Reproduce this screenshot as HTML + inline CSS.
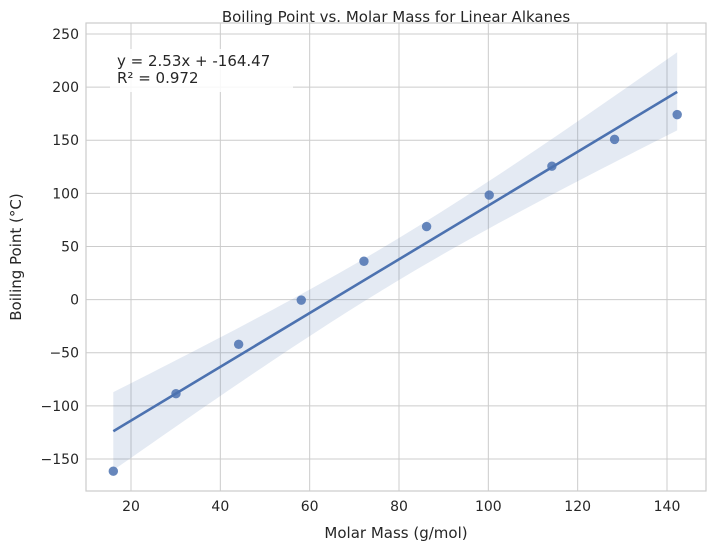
<!DOCTYPE html>
<html><head><meta charset="utf-8"><style>
body{margin:0;background:#fff;font-family:"Liberation Sans","DejaVu Sans",sans-serif}
svg text{font-family:"DejaVu Sans","Liberation Sans",sans-serif;fill:#262626}
</style></head><body>
<svg id="chart" width="715" height="551" xmlns="http://www.w3.org/2000/svg"></svg>
<script>
const molarMass=[16.04,30.07,44.1,58.12,72.15,86.18,100.2,114.23,128.26,142.28];
const boilingPoint=[-161.5,-88.6,-42.1,-0.5,36.1,68.7,98.4,125.6,150.8,174.1];
const xTicks=[20,40,60,80,100,120,140];
const yTicks=[-150,-100,-50,0,50,100,150,200,250];
const slope=2.53, intercept=-164.47, r2=0.972;

const NS="http://www.w3.org/2000/svg";
const svg=document.getElementById('chart');
const L=86,R=706,T=23,B=491;
const X=v=>131+(v-20)*(536/120);
const Y=v=>299.6-v*1.0625;
const fmt=v=>String(v).replace('-','\u2212');
function mk(tag,attrs,parent){const e=document.createElementNS(NS,tag);for(const k in attrs)e.setAttribute(k,attrs[k]);(parent||svg).appendChild(e);return e;}

const frame=mk('rect',{x:L,y:T,width:R-L,height:B-T,fill:'#fff'});


xTicks.forEach(t=>{
  const g=mk('line',{x1:X(t),x2:X(t),y1:T,y2:B,stroke:'#cccccc','stroke-width':1});
  
  
  const tx=mk('text',{x:X(t),y:B+20,'text-anchor':'middle','font-size':14});
  tx.textContent=fmt(t);
  
  
});
yTicks.forEach(t=>{
  const g=mk('line',{x1:L,x2:R,y1:Y(t),y2:Y(t),stroke:'#cccccc','stroke-width':1});
  
  
  const tx=mk('text',{x:L-7,y:Y(t)+5,'text-anchor':'end','font-size':14});
  tx.textContent=fmt(t);
  
  
});

const n=molarMass.length;
const xbar=molarMass.reduce((a,b)=>a+b,0)/n;
const ybar=boilingPoint.reduce((a,b)=>a+b,0)/n;
let sxx=0,sxy=0;molarMass.forEach((x,i)=>{sxx+=(x-xbar)**2;sxy+=(x-xbar)*(boilingPoint[i]-ybar);});
const b1=sxy/sxx,b0=ybar-b1*xbar;
let sse=0;molarMass.forEach((x,i)=>{sse+=(boilingPoint[i]-(b0+b1*x))**2;});
const s=Math.sqrt(sse/(n-2));
const xmin=Math.min(...molarMass),xmax=Math.max(...molarMass);
let up=[],lo=[];
for(let k=0;k<=60;k++){const x=xmin+(xmax-xmin)*k/60;const yh=b0+b1*x;const h=1.4*2.306*s*Math.sqrt(1/n+(x-xbar)**2/sxx);
up.push(X(x)+','+Y(yh+h));lo.unshift(X(x)+','+Y(yh-h));}
const band=mk('polygon',{points:up.concat(lo).join(' '),fill:'#4c72b0','fill-opacity':0.15,stroke:'none'});



molarMass.forEach((x,i)=>{
  const c=mk('circle',{cx:X(x),cy:Y(boilingPoint[i]),r:4.7,fill:'#4c72b0','fill-opacity':0.85});
  
  
});
const line=mk('line',{x1:X(xmin),y1:Y(slope*xmin+intercept),x2:X(xmax),y2:Y(slope*xmax+intercept),stroke:'#4c72b0','stroke-width':2.6});



const border=mk('rect',{x:L,y:T,width:R-L,height:B-T,fill:'none',stroke:'#cccccc','stroke-width':1.2});



const box=mk('rect',{x:110,y:49,width:183,height:43,fill:'#fff','fill-opacity':0.85,rx:3});


const a1=mk('text',{x:117,y:66,'font-size':15});a1.textContent='y = '+slope+'x + '+intercept;


const a2=mk('text',{x:117,y:83,'font-size':15});a2.textContent='R² = '+r2;



const title=mk('text',{x:396,y:22,'text-anchor':'middle','font-size':15});title.textContent='Boiling Point vs. Molar Mass for Linear Alkanes';


const xl=mk('text',{x:396,y:538,'text-anchor':'middle','font-size':15});xl.textContent='Molar Mass (g/mol)';


const yl=mk('text',{x:21,y:257,'text-anchor':'middle','font-size':15,transform:'rotate(-90 21 257)'});yl.textContent='Boiling Point (°C)';


</script>
</body></html>
